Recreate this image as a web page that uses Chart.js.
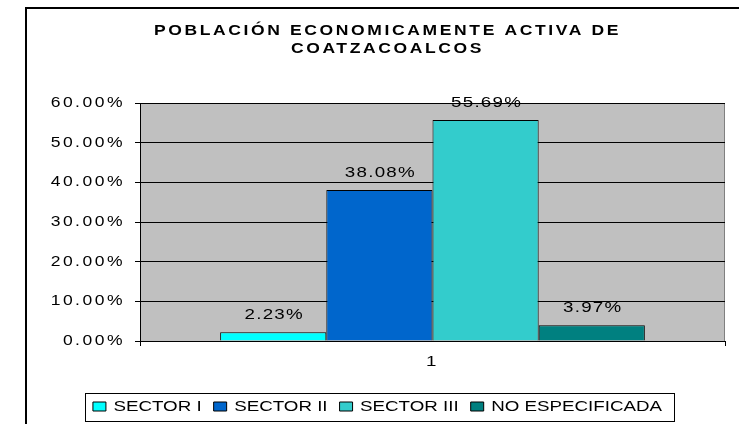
<!DOCTYPE html>
<html>
<head>
<meta charset="utf-8">
<script src="https://cdn.jsdelivr.net/npm/chart.js@4.4.1/dist/chart.umd.min.js"></script>
<style>
  html, body { margin: 0; padding: 0; background: #fff; overflow: hidden; }
  canvas { position: absolute; left: 0; top: 0; }
  #frame { position: absolute; left: 25px; top: 7px; width: 760px; height: 460px;
           border-left: 2px solid #000; border-top: 2px solid #000; pointer-events: none; }
</style>
</head>
<body>
<canvas id="chart" width="739" height="424"></canvas>
<div id="frame"></div>
<script>
const categories = ['1'];
const seriesNames = ['SECTOR I', 'SECTOR II', 'SECTOR III', 'NO ESPECIFICADA'];
const seriesValues = [[2.23], [38.08], [55.69], [3.97]];
const seriesColors = ['#00FFFF', '#0066CC', '#33CCCC', '#008080'];
const yTicks = [0, 10, 20, 30, 40, 50, 60];
const titleLines = ['POBLACIÓN ECONOMICAMENTE ACTIVA DE', 'COATZACOALCOS'];

const FONT = "'Liberation Sans', Arial, sans-serif";
const TEXT_STRETCH = 1.25;   // the old Excel picture has wide-drawn text

// stretch every text the chart writes horizontally around its anchor point
function stretchText(ctx, sx) {
    const fill = ctx.fillText.bind(ctx);
    const measure = ctx.measureText.bind(ctx);
    ctx.fillText = function (text, x, y, maxWidth) {
        ctx.save();
        ctx.translate(x, y);
        ctx.scale(sx, 1);
        if (maxWidth === undefined || maxWidth === null) {
            fill(text, 0, 0);
        } else {
            fill(text, 0, 0, maxWidth / sx);
        }
        ctx.restore();
    };
    ctx.measureText = function (text) {
        const m = measure(text);
        return {
            width: m.width * sx,
            actualBoundingBoxLeft: m.actualBoundingBoxLeft * sx,
            actualBoundingBoxRight: m.actualBoundingBoxRight * sx,
            actualBoundingBoxAscent: m.actualBoundingBoxAscent,
            actualBoundingBoxDescent: m.actualBoundingBoxDescent,
            fontBoundingBoxAscent: m.fontBoundingBoxAscent,
            fontBoundingBoxDescent: m.fontBoundingBoxDescent
        };
    };
}

// wrap a layout box so it draws with its own letter spacing (and a small shift)
function spaced(chart, box, methods, spacing, dx) {
    methods.forEach(function (m) {
        const orig = box[m];
        box[m] = function () {
            const ctx = chart.ctx;
            ctx.save();
            ctx.letterSpacing = spacing;
            if (m === 'draw' && dx) ctx.translate(dx, 0);
            const r = orig.apply(this, arguments);
            ctx.restore();
            return r;
        };
    });
}

const excelLook = {
    id: 'excelLook',
    afterInit(chart) {
        spaced(chart, chart.titleBlock, ['draw'], '2.1px', 10);
        spaced(chart, chart.legend, ['fit', 'draw'], '0px', 0);
    },
    beforeDraw(chart) {
        const ctx = chart.ctx;
        const a = chart.chartArea;
        ctx.save();
        ctx.fillStyle = '#C0C0C0';
        ctx.fillRect(a.left, a.top, a.right - a.left, a.bottom - a.top);
        ctx.strokeStyle = '#808080';
        ctx.lineWidth = 1;
        ctx.strokeRect(a.left + 0.5, a.top + 0.5, a.right - a.left - 1, a.bottom - a.top);
        ctx.restore();
        // axis tick labels
        ctx.letterSpacing = '2px';
    },
    afterDatasetsDraw(chart) {
        const ctx = chart.ctx;
        ctx.save();
        ctx.font = '15px ' + FONT;
        ctx.letterSpacing = '1px';
        ctx.fillStyle = '#000';
        ctx.textAlign = 'center';
        ctx.textBaseline = 'alphabetic';
        chart.data.datasets.forEach(function (ds, i) {
            chart.getDatasetMeta(i).data.forEach(function (bar, j) {
                ctx.fillText(ds.data[j].toFixed(2) + '%', bar.x + 1, bar.y - 13);
            });
        });
        ctx.restore();
    },
    afterDraw(chart) {
        const ctx = chart.ctx;
        ctx.letterSpacing = '0px';
        const hb = chart.legend.legendHitBoxes;
        if (!hb || !hb.length) return;
        const first = hb[0];
        const last = hb[hb.length - 1];
        const cy = first.top + first.height / 2;
        const left = Math.round(first.left - 8) + 0.5;
        const right = Math.round(last.left + last.width + 12) + 0.5;
        const top = Math.round(cy - 14) + 0.5;
        ctx.save();
        ctx.strokeStyle = '#000';
        ctx.lineWidth = 1;
        ctx.strokeRect(left, top, right - left, 28);
        ctx.restore();
    }
};

Chart.defaults.font.family = FONT;
Chart.defaults.color = '#000';

const ctx = document.getElementById('chart').getContext('2d');
stretchText(ctx, TEXT_STRETCH);

new Chart(ctx, {
    type: 'bar',
    data: {
        labels: categories,
        datasets: seriesNames.map(function (name, i) {
            return {
                label: name,
                data: seriesValues[i],
                backgroundColor: seriesColors[i],
                borderColor: '#000',
                borderWidth: 1,
                categoryPercentage: 0.726,
                barPercentage: 1
            };
        })
    },
    options: {
        responsive: false,
        animation: false,
        devicePixelRatio: 1,
        layout: { padding: { left: 30, right: 14, top: 0, bottom: 0 } },
        plugins: {
            title: {
                display: true,
                text: titleLines,
                color: '#000',
                font: { family: FONT, size: 14, weight: 'bold', lineHeight: 18 / 14 },
                padding: { top: 22, bottom: 45 }
            },
            legend: {
                position: 'bottom',
                labels: {
                    color: '#000',
                    font: { family: FONT, size: 15 },
                    boxWidth: 13,
                    boxHeight: 9,
                    padding: 12
                }
            },
            tooltip: { enabled: false }
        },
        scales: {
            x: {
                grid: { drawOnChartArea: false, drawTicks: true, tickLength: 5, color: '#000' },
                border: { color: '#000' },
                ticks: { color: '#000', font: { family: FONT, size: 15 }, padding: 7 },
                afterFit(axis) { axis.height = 46; }
            },
            y: {
                min: yTicks[0],
                max: yTicks[yTicks.length - 1],
                ticks: {
                    stepSize: yTicks[1] - yTicks[0],
                    padding: 10,
                    color: '#000',
                    font: { family: FONT, size: 14 },
                    callback: function (v) { return v.toFixed(2) + '%'; }
                },
                grid: { color: '#000', tickLength: 5 },
                border: { color: '#000' },
                afterFit(axis) { axis.width = 110; }
            }
        }
    },
    plugins: [excelLook]
});
</script>
</body>
</html>
